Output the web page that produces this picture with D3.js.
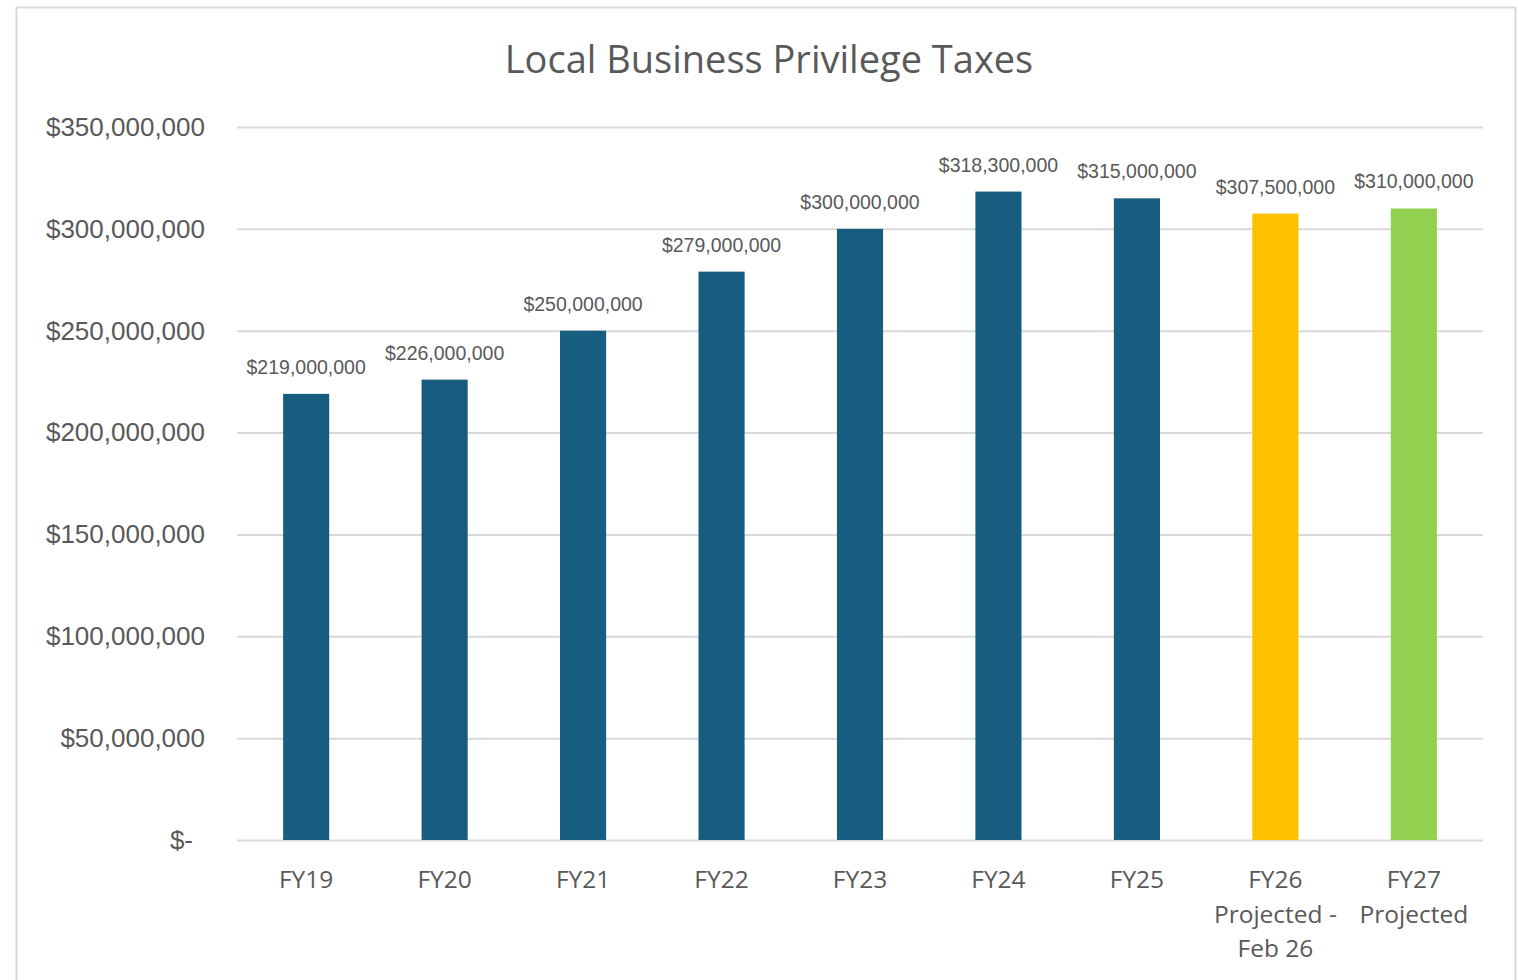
<!DOCTYPE html>
<html>
<head>
<meta charset="utf-8">
<script src="https://cdn.jsdelivr.net/npm/d3@7"></script>
<style>
  body { margin: 0; background: #fff; }
  svg { display: block; }
</style>
</head>
<body>
<div id="chart-area"></div>
<script>
// data
var categories = ["FY19", "FY20", "FY21", "FY22", "FY23", "FY24", "FY25", "FY26", "FY27"];
var catLines = [["FY19"], ["FY20"], ["FY21"], ["FY22"], ["FY23"], ["FY24"], ["FY25"],
                ["FY26", "Projected -", "Feb 26"], ["FY27", "Projected"]];
var values = [219000000, 226000000, 250000000, 279000000, 300000000, 318300000, 315000000, 307500000, 310000000];
var barColors = ["#175d7f", "#175d7f", "#175d7f", "#175d7f", "#175d7f", "#175d7f", "#175d7f", "#ffc000", "#92d050"];
var yTicks = [0, 50000000, 100000000, 150000000, 200000000, 250000000, 300000000, 350000000];
var yTickLabels = ["$-", "$50,000,000", "$100,000,000", "$150,000,000", "$200,000,000",
                   "$250,000,000", "$300,000,000", "$350,000,000"];

var W = 1518, H = 980;
var margin = {top: 127, right: 35, bottom: 140, left: 237};
var width = W - margin.left - margin.right,
    height = H - margin.top - margin.bottom;

var svg = d3.select("#chart-area")
    .append("svg")
        .attr("width", W)
        .attr("height", H);

// chart frame
svg.append("rect")
    .attr("x", 16.5)
    .attr("y", 7.5)
    .attr("width", 1499)
    .attr("height", 990)
    .attr("fill", "#fff")
    .attr("stroke", "#d9d9d9")
    .attr("stroke-width", 2);

// title
svg.append("text")
    .attr("x", 769)
    .attr("y", 73)
    .attr("text-anchor", "middle")
    .attr("font-family", "'Open Sans', sans-serif")
    .attr("font-size", "38px")
    .attr("fill", "#595959")
    .text("Local Business Privilege Taxes");

var g = svg.append("g")
    .attr("transform", "translate(" + margin.left + "," + margin.top + ")");

var x = d3.scaleBand()
    .domain(categories)
    .range([0, width])
    .paddingInner(0.667)
    .paddingOuter(0.333);

var y = d3.scaleLinear()
    .domain([0, 350000000])
    .range([height, 0]);

// gridlines + y labels
var yAxisCall = d3.axisLeft(y)
    .tickValues(yTicks)
    .tickSize(-width)
    .tickPadding(32)
    .tickFormat((d, i) => yTickLabels[i]);

var yAxis = g.append("g")
    .attr("class", "y axis")
    .call(yAxisCall);

yAxis.select(".domain").remove();
yAxis.selectAll("line")
    .attr("stroke", "#d9d9d9")
    .attr("stroke-width", 2);
yAxis.selectAll("text")
    .attr("font-family", "'Liberation Sans', Arial, sans-serif")
    .attr("font-size", "26px")
    .attr("fill", "#595959")
    .attr("dx", (d) => d === 0 ? -12 : 0);

// bars
g.selectAll("rect.bar")
    .data(values)
    .enter()
    .append("rect")
        .attr("class", "bar")
        .attr("x", (d, i) => x(categories[i]))
        .attr("y", (d) => y(d))
        .attr("width", x.bandwidth())
        .attr("height", (d) => height - y(d))
        .attr("fill", (d, i) => barColors[i]);

// data labels
g.selectAll("text.value")
    .data(values)
    .enter()
    .append("text")
        .attr("class", "value")
        .attr("x", (d, i) => x(categories[i]) + x.bandwidth() / 2)
        .attr("y", (d) => y(d) - 20)
        .attr("text-anchor", "middle")
        .attr("font-family", "'Liberation Sans', Arial, sans-serif")
        .attr("font-size", "19.5px")
        .attr("fill", "#595959")
        .text((d) => d3.format("$,")(d));

// x labels
var xl = g.selectAll("text.cat")
    .data(catLines)
    .enter()
    .append("text")
        .attr("class", "cat")
        .attr("x", (d, i) => x(categories[i]) + x.bandwidth() / 2)
        .attr("y", height + 48)
        .attr("text-anchor", "middle")
        .attr("font-family", "'Open Sans', sans-serif")
        .attr("font-size", "24.5px")
        .attr("fill", "#595959");

xl.selectAll("tspan")
    .data((d) => d)
    .enter()
    .append("tspan")
        .attr("x", function() { return this.parentNode.getAttribute("x"); })
        .attr("dy", (d, i) => i === 0 ? 0 : 34.5)
        .text((d) => d);
</script>
</body>
</html>
